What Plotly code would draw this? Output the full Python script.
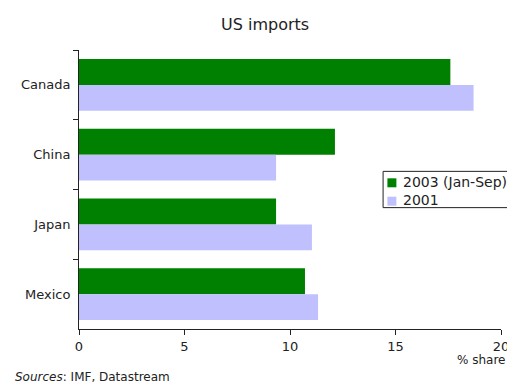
import plotly.graph_objects as go

countries = ["Canada", "China", "Japan", "Mexico"]
share_2003 = [17.6, 12.13, 9.34, 10.71]
share_2001 = [18.7, 9.34, 11.04, 11.33]
x_ticks = [0, 5, 10, 15, 20]
series_names = ["2003 (Jan-Sep)", "2001"]
series_colors = ["#008000", "#C0C0FF"]

FONT = "Verdana, DejaVu Sans, sans-serif"

fig = go.Figure()
for name, vals, col in zip(series_names, [share_2003, share_2001], series_colors):
    fig.add_trace(go.Bar(y=countries, x=vals, orientation="h", name=name,
                         marker=dict(color=col, line=dict(width=0))))

# custom legend (box, swatches, labels) in paper coordinates
shapes = [dict(type="rect", xref="paper", yref="paper", x0=0.7206, x1=1.03, y0=0.435, y1=0.565,
               line=dict(color="#222", width=1), fillcolor="white", layer="above")]
annots = []
sw_y = [(0.5079, 0.5401), (0.4419, 0.4742)]
txt_y = [0.527, 0.462]
for name, col, (y0, y1), ty in zip(series_names, series_colors, sw_y, txt_y):
    shapes.append(dict(type="rect", xref="paper", yref="paper", x0=0.7308, x1=0.7521,
                       y0=y0, y1=y1, line=dict(width=0), fillcolor=col, layer="above"))
    annots.append(dict(text=name, xref="paper", yref="paper", x=0.7625, y=ty,
                       xanchor="left", yanchor="middle", showarrow=False, font=dict(size=14)))

fig.update_layout(
    width=507, height=383,
    margin=dict(l=79, r=6, t=50, b=54, autoexpand=False),
    paper_bgcolor="white", plot_bgcolor="white",
    font=dict(family=FONT, size=13, color="#222"),
    barmode="group", bargap=0.257, bargroupgap=0,
    showlegend=False,
    shapes=shapes,
    annotations=annots + [
        dict(text="US imports", xref="paper", yref="paper", x=0.441, y=1.093,
             xanchor="center", yanchor="middle", showarrow=False, font=dict(size=16)),
        dict(text="% share", xref="paper", yref="paper", x=1.014, y=-0.11,
             xanchor="right", yanchor="middle", showarrow=False, font=dict(size=12)),
        dict(text="<i>Sources</i>: IMF, Datastream", xref="paper", yref="paper",
             x=-0.1556, y=-0.172, xanchor="left", yanchor="middle", showarrow=False,
             font=dict(size=12)),
    ],
)
fig.update_xaxes(range=[0, 20], tickvals=x_ticks, ticktext=[str(v) for v in x_ticks],
                 showgrid=False, zeroline=False, showline=True, linecolor="#222", linewidth=1,
                 ticks="outside", ticklen=5, tickcolor="#222", ticklabeloverflow="allow")
fig.update_yaxes(autorange="reversed", showgrid=False, zeroline=False, showline=True,
                 linecolor="#222", linewidth=1, ticks="outside", ticklen=5, tickcolor="#222",
                 tickson="boundaries", ticklabelstandoff=5)

fig.write_html("out.html")
